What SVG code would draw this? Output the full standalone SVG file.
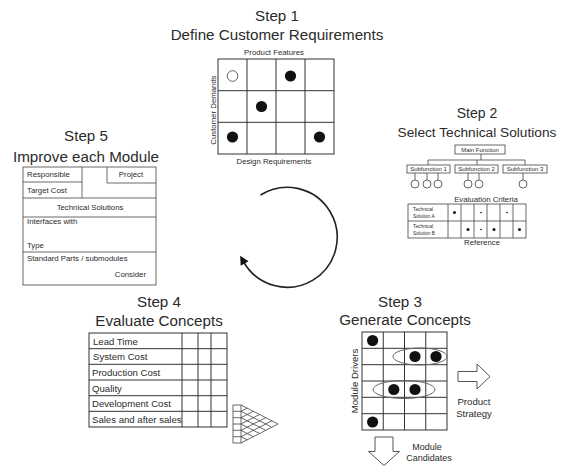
<svg xmlns="http://www.w3.org/2000/svg" width="574" height="466" viewBox="0 0 574 466">
  <style>
    text { font-family: "Liberation Sans", Arial, sans-serif; fill: #2b2b2b; }
    .title { font-size: 15.2px; text-anchor: middle; }
    .lbl { font-size: 7.8px; }
    .tiny { font-size: 6px; }
    .mini { font-size: 4.8px; }
    .row { font-size: 9.6px; }
    .mid { text-anchor: middle; }
    .grid { fill: none; stroke: #333; stroke-width: 1; }
    .thin { fill: none; stroke: #444; stroke-width: 0.8; }
    .dot { fill: #111; }
    .ring { fill: #fff; stroke: #555; stroke-width: 0.9; }
    .blk { fill: #fff; stroke: #555; stroke-width: 1; }
  </style>
  <defs>
    <marker id="head" viewBox="0 0 10 10" refX="2" refY="5" markerWidth="10" markerHeight="9" markerUnits="userSpaceOnUse" orient="auto">
      <path d="M0,0 L10,5 L0,10 z" fill="#111"/>
    </marker>
  </defs>

  <rect width="574" height="466" fill="#fff"/>

  <!-- Step 1: customer requirements matrix -->
  <g id="step1">
    <text class="title" x="277" y="21">Step 1</text>
    <text class="title" x="277" y="40">Define Customer Requirements</text>
    <text class="lbl mid" x="274" y="55">Product Features</text>
    <text class="lbl mid" x="274" y="164">Design Requirements</text>
    <text class="lbl mid" transform="translate(216 110) rotate(-90)">Customer Demands</text>
    <rect class="grid" x="218" y="59" width="116" height="95"/>
    <path class="grid" d="M247 59V154M276 59V154M305 59V154M218 90.7H334M218 122.3H334"/>
    <circle class="ring" cx="232.5" cy="76" r="5.3"/>
    <circle class="dot" cx="290.5" cy="76" r="5.6"/>
    <circle class="dot" cx="261.5" cy="106.5" r="5.6"/>
    <circle class="dot" cx="232.5" cy="137" r="5.6"/>
    <circle class="dot" cx="319.5" cy="137" r="5.6"/>
  </g>

  <!-- Step 2: function tree and evaluation table -->
  <g id="step2">
    <text class="title" x="477" y="118" style="font-size:14px">Step 2</text>
    <text class="title" x="477" y="137" style="font-size:13.7px">Select Technical Solutions</text>
    <rect class="thin" x="455" y="145" width="50" height="9"/>
    <text class="tiny mid" x="480" y="151.8">Main Function</text>
    <path class="thin" d="M481 154V160M428 160H525M428 160V165M477 160V165M525 160V165"/>
    <rect class="thin" x="407" y="165" width="43" height="8"/>
    <rect class="thin" x="455" y="165" width="43" height="8"/>
    <rect class="thin" x="503" y="165" width="44" height="8"/>
    <text class="tiny mid" x="428.5" y="171.3">Subfunction 1</text>
    <text class="tiny mid" x="476.5" y="171.3">Subfunction 2</text>
    <text class="tiny mid" x="525" y="171.3">Subfunction 3</text>
    <path class="thin" d="M415 173V180M427 173V180M438 173V180M468 173V180M479 173V180M523 173V180"/>
    <circle class="ring" cx="415" cy="184" r="4"/>
    <circle class="ring" cx="427" cy="184" r="4"/>
    <circle class="ring" cx="438" cy="184" r="4"/>
    <circle class="ring" cx="468" cy="184" r="4"/>
    <circle class="ring" cx="479" cy="184" r="4"/>
    <circle class="ring" cx="523" cy="184" r="4"/>
    <text class="lbl mid" x="486" y="202">Evaluation Criteria</text>
    <rect class="thin" x="408" y="204" width="118" height="34"/>
    <path class="thin" d="M408 221H526M448 204V238M461 204V238M474 204V238M487 204V238M500 204V238M513 204V238"/>
    <text class="mini" x="413" y="211">Technical</text>
    <text class="mini" x="413" y="217.5">Solution  A</text>
    <text class="mini" x="413" y="228">Technical</text>
    <text class="mini" x="413" y="234.5">Solution  B</text>
    <circle class="dot" cx="454.5" cy="212.5" r="1.5"/>
    <circle class="dot" cx="481" cy="212.5" r="0.8"/>
    <circle class="dot" cx="507" cy="212.5" r="0.8"/>
    <circle class="dot" cx="468" cy="229.5" r="1.5"/>
    <circle class="dot" cx="481" cy="229.5" r="0.8"/>
    <circle class="dot" cx="494" cy="229.5" r="1.5"/>
    <circle class="dot" cx="519.5" cy="229.5" r="1.5"/>
    <text class="lbl mid" x="482" y="245">Reference</text>
  </g>

  <!-- Step 3: module driver matrix -->
  <g id="step3">
    <text class="title" x="400" y="307">Step 3</text>
    <text class="title" x="405" y="325">Generate Concepts</text>
    <rect class="grid" x="362" y="332" width="85" height="98"/>
    <path class="grid" d="M383.25 332V430M404.5 332V430M425.75 332V430M362 348.3H447M362 364.7H447M362 381H447M362 397.3H447M362 413.7H447"/>
    <ellipse cx="420" cy="356.5" rx="27" ry="8.5" fill="none" stroke="#666" stroke-width="1"/>
    <ellipse cx="404" cy="389.5" rx="31" ry="9" fill="none" stroke="#666" stroke-width="1"/>
    <circle class="dot" cx="372.6" cy="340.5" r="5.6"/>
    <circle class="dot" cx="415" cy="356.5" r="5.6"/>
    <circle class="dot" cx="436" cy="356.5" r="5.6"/>
    <circle class="dot" cx="393.8" cy="389.5" r="5.6"/>
    <circle class="dot" cx="415" cy="389.5" r="5.6"/>
    <circle class="dot" cx="372.6" cy="422" r="5.6"/>
    <text class="row mid" transform="translate(358 381) rotate(-90)">Module Drivers</text>
    <path class="blk" d="M458 371.5H477V364L490 376.5L477 389V381.5H458Z"/>
    <text class="row mid" x="474" y="405">Product</text>
    <text class="row mid" x="474" y="417">Strategy</text>
    <path class="blk" d="M375 437H393V451.5H399.5L384 465.5L368.5 451.5H375Z"/>
    <text class="row mid" x="427" y="450" style="font-size:9px">Module</text>
    <text class="row mid" x="429" y="461" style="font-size:9px">Candidates</text>
  </g>

  <!-- Step 4: concept evaluation table -->
  <g id="step4">
    <text class="title" x="159" y="307">Step 4</text>
    <text class="title" x="159" y="326">Evaluate Concepts</text>
    <rect class="grid" x="89" y="333" width="138" height="94"/>
    <path class="grid" d="M89 348.7H227M89 364.3H227M89 380H227M89 395.7H227M89 411.3H227M182 333V427M198 333V427M211 333V427"/>
    <text class="row" x="93" y="344.5">Lead Time</text>
    <text class="row" x="93" y="360.2">System Cost</text>
    <text class="row" x="92" y="375.8">Production Cost</text>
    <text class="row" x="92" y="391.5">Quality</text>
    <text class="row" x="92" y="407.2">Development Cost</text>
    <text class="row" x="92" y="422.8">Sales and after sales</text>
    <!-- correlation roof -->
    <rect class="thin" x="233" y="405" width="8" height="38"/>
    <path class="thin" d="M241 405L278 424L241 443M233 411.3H241M233 417.7H241M233 424H241M233 430.3H241M233 436.7H241"/>
    <path class="thin" d="M241 411.3L271.2 426.8M241 417.7L265.7 430.3M241 424L259.5 433.5M241 430.3L253.3 436.7M241 436.7L247.2 439.8M241 411.3L247.2 408.2M241 417.7L253.3 411.3M241 424L259.5 414.5M241 430.3L265.7 417.7M241 436.7L271.8 420.8"/>
  </g>

  <!-- Step 5: module specification sheet -->
  <g id="step5">
    <text class="title" x="86" y="141">Step 5</text>
    <text class="title" x="86" y="162">Improve each Module</text>
    <rect class="thin" x="23" y="167" width="133" height="118"/>
    <path class="thin" d="M23 182H82M82 167V198M107 167V183H156M23 198H156M23 217H156M23 252H156"/>
    <text class="lbl" x="27" y="177">Responsible</text>
    <text class="lbl mid" x="131" y="177">Project</text>
    <text class="lbl" x="27" y="193">Target Cost</text>
    <text class="lbl mid" x="90" y="210">Technical Solutions</text>
    <text class="lbl" x="27" y="224">Interfaces with</text>
    <text class="lbl" x="27" y="248">Type</text>
    <text class="lbl" x="27" y="261">Standard Parts / submodules</text>
    <text class="lbl" x="146" y="277" text-anchor="end">Consider</text>
  </g>

  <!-- cycle connector -->
  <g id="connectors">
    <path d="M260.5 195 A50 50 0 1 1 243.7 262" fill="none" stroke="#222" stroke-width="1.6" marker-end="url(#head)"/>
  </g>
</svg>
